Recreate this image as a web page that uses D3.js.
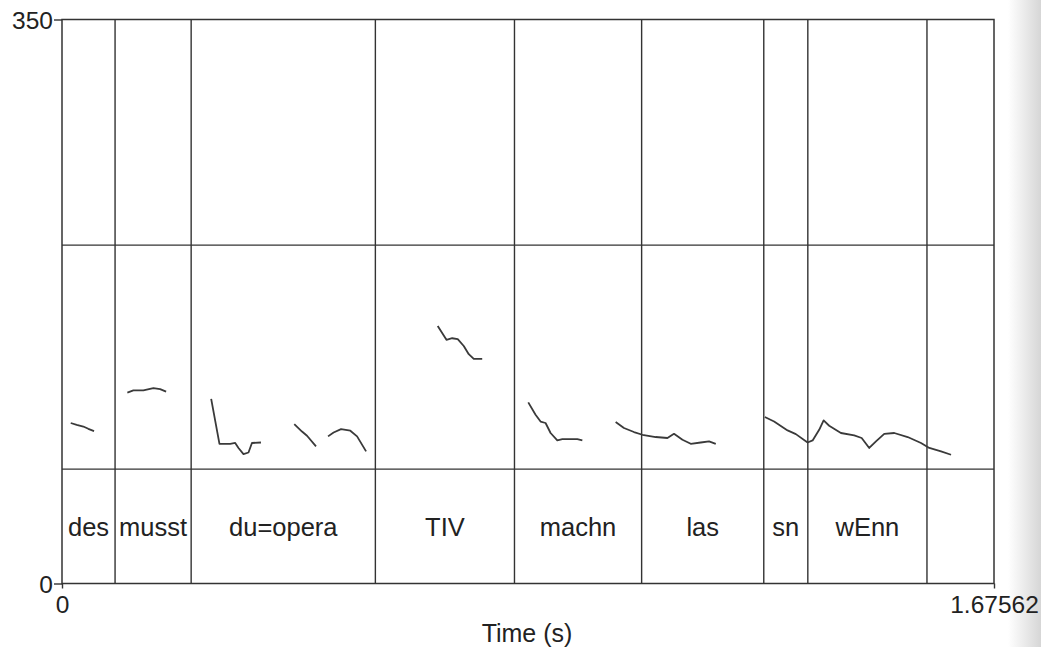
<!DOCTYPE html>
<html lang="en">
<head>
  <meta charset="UTF-8">
  <title>Pitch + TextGrid</title>
  <script src="https://d3js.org/d3.v7.min.js"></script>
  <style>
  body { margin: 0; background: #fff; }
  text { font-family: "Liberation Sans", Arial, sans-serif; fill: #222; }
  </style>
</head>

<body>

  <div id="chart"></div>

  <script type="text/javascript">

  // time range (s) and pitch range (Hz)
  const tMax = 1.67562;
  const hzMax = 350;

  // interval boundaries of the word tier (s)
  const boundaries = [0.0954, 0.2322, 0.5634, 0.8135, 1.0421, 1.2617, 1.3409, 1.5551];
  const words = ["des", "musst", "du=opera", "TIV", "machn", "las", "sn", "wEnn", ""];

  // horizontal tier separators, in Hz on the same axis
  const tierLines = [210, 71];

  // pitch contour pieces [time, Hz]
  const desPitch = [[0.0157, 99.6], [0.0265, 98.5], [0.0383, 97.4], [0.0473, 96.0], [0.0576, 94.6]];
  const musstPitch = [[0.1175, 118.5], [0.1283, 119.8], [0.1463, 119.8], [0.1643, 121.2], [0.1764, 120.6], [0.1872, 119.1]];
  const duPitch = [[0.2682, 114.6], [0.2831, 86.7], [0.3024, 86.7], [0.3114, 87.2], [0.3173, 84.1], [0.3263, 80.3],
                   [0.3353, 81.3], [0.3415, 87.2], [0.3577, 87.5]];
  const operPitch = [[0.4176, 98.9], [0.4315, 94.3], [0.4405, 91.7], [0.4567, 85.1]];
  const opera2Pitch = [[0.4783, 91.3], [0.4883, 93.7], [0.5017, 95.8], [0.5184, 94.8], [0.5305, 91.3], [0.5467, 82.0]];
  const tivPitch = [[0.6755, 159.8], [0.6912, 151.2], [0.7015, 152.2], [0.7115, 151.6], [0.7223, 147.4],
                    [0.7313, 142.3], [0.7403, 139.4], [0.7555, 139.4]];
  const machnPitch = [[0.8383, 112.4], [0.8514, 104.7], [0.8604, 100.5], [0.8694, 99.6], [0.8784, 93.4],
                      [0.8905, 88.8], [0.8995, 89.6], [0.9265, 89.6], [0.9355, 88.8]];
  const lasPitch = [[0.9954, 100.2], [1.0103, 96.5], [1.0283, 94.0], [1.0435, 92.3], [1.0674, 90.9], [1.0885, 90.3],
                    [1.1003, 92.9], [1.1155, 89.2], [1.1304, 86.7], [1.1484, 87.5], [1.1633, 88.2], [1.1754, 86.7]];
  const wennPitch = [[1.2636, 103.3], [1.2803, 100.5], [1.3045, 95.0], [1.3194, 92.7], [1.3405, 87.5], [1.3495, 88.8],
                     [1.3613, 95.4], [1.3693, 101.2], [1.3793, 97.9], [1.4004, 93.4], [1.4243, 91.9], [1.4377, 90.3],
                     [1.4513, 84.1], [1.4634, 88.2], [1.4783, 92.9], [1.4963, 93.4], [1.5204, 90.9], [1.5444, 87.2],
                     [1.5593, 84.1], [1.5804, 82.0], [1.5984, 79.9]];
  const pitchPieces = [desPitch, musstPitch, duPitch, operPitch, opera2Pitch, tivPitch, machnPitch, lasPitch, wennPitch];

  const w = 1041;
  const h = 647;
  const margin = {top: 19.5, right: 47, bottom: 63.5, left: 62};
  const gw = w - margin.left - margin.right;
  const gh = h - margin.top - margin.bottom;

  const svg = d3.select("#chart").append("svg")
    .attr("width", w)
    .attr("height", h);

  // scanned page edge shading
  const grad = svg.append("defs").append("linearGradient")
    .attr("id", "edge");
  grad.append("stop").attr("offset", "0%").attr("stop-color", "#fff");
  grad.append("stop").attr("offset", "100%").attr("stop-color", "#d6d6d6");
  svg.append("rect")
    .attr("x", 1008).attr("y", 0)
    .attr("width", 33).attr("height", h)
    .attr("fill", "url(#edge)");

  const graph = svg.append("g")
    .attr("transform", `translate(${margin.left},${margin.top})`);

  const x = d3.scaleLinear().domain([0, tMax]).range([0, gw]);
  const y = d3.scaleLinear().domain([0, hzMax]).range([gh, 0]);

  const stroke = "#333";

  // tier separators
  graph.selectAll(".tier")
    .data(tierLines)
    .enter().append("line")
      .attr("x1", 0).attr("x2", gw)
      .attr("y1", d => y(d)).attr("y2", d => y(d))
      .attr("stroke", stroke)
      .attr("stroke-width", 1.4);

  // interval boundaries
  graph.selectAll(".bound")
    .data(boundaries)
    .enter().append("line")
      .attr("x1", d => x(d)).attr("x2", d => x(d))
      .attr("y1", 0).attr("y2", gh)
      .attr("stroke", stroke)
      .attr("stroke-width", 1.4);

  // frame
  graph.append("rect")
    .attr("width", gw).attr("height", gh)
    .attr("fill", "none")
    .attr("stroke", stroke)
    .attr("stroke-width", 1.5);

  // word labels centred in their intervals
  const edges = [0, ...boundaries, tMax];
  graph.selectAll(".word")
    .data(words)
    .enter().append("text")
      .attr("x", (d, i) => x((edges[i] + edges[i + 1]) / 2))
      .attr("y", 516.5)
      .attr("text-anchor", "middle")
      .style("font-size", "25.5px")
      .text(d => d);

  // pitch contours
  const line = d3.line()
    .x(d => x(d[0]))
    .y(d => y(d[1]));

  graph.selectAll(".pitch")
    .data(pitchPieces)
    .enter().append("path")
      .attr("d", line)
      .attr("fill", "none")
      .attr("stroke", "#3a3a3a")
      .attr("stroke-width", 1.8)
      .attr("stroke-linejoin", "round");

  // axes
  const yAxis = d3.axisLeft(y)
    .tickValues([0, hzMax])
    .tickSize(8)
    .tickPadding(1)
    .tickFormat(d3.format("d"));

  const xAxis = d3.axisBottom(x)
    .tickValues([0, tMax])
    .tickSize(5)
    .tickPadding(7)
    .tickFormat(d => d === 0 ? "0" : String(tMax));

  const yg = graph.append("g").call(yAxis);
  const xg = graph.append("g").attr("transform", `translate(0,${gh})`).call(xAxis);

  [yg, xg].forEach(g => {
    g.select(".domain").remove();
    g.selectAll("line").attr("stroke", stroke).attr("stroke-width", 1.4);
    g.selectAll("text")
      .attr("fill", "#222")
      .style("font-size", "24.5px")
      .style("font-family", "'Liberation Sans', Arial, sans-serif");
  });
  yg.selectAll("text").attr("dy", "0.36em");
  xg.selectAll("text").attr("dy", "0.72em");

  svg.append("text")
    .attr("x", margin.left + gw / 2 - 1)
    .attr("y", 642)
    .attr("text-anchor", "middle")
    .style("font-size", "25px")
    .text("Time (s)");

  </script>
</body>
</html>
